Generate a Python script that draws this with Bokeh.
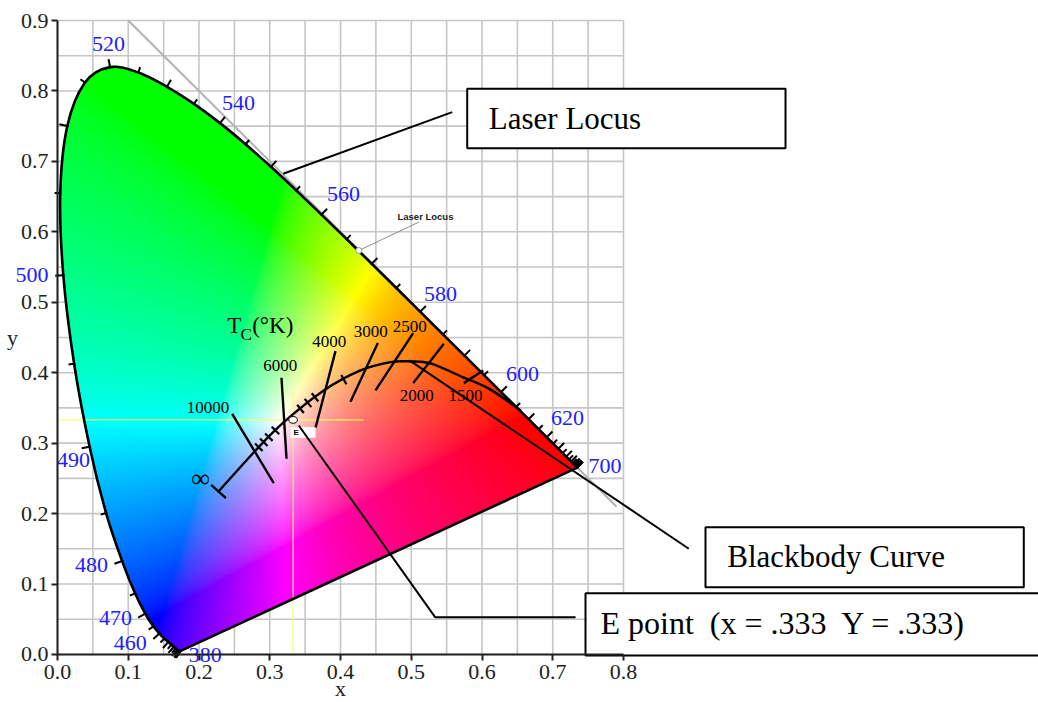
import numpy as np
from bokeh.plotting import figure
from bokeh.models import Range1d, LinearAxis, FixedTicker, NumeralTickFormatter
from bokeh.core.properties import value
from bokeh.embed import file_html
from bokeh.resources import INLINE

# ---------------- data ----------------
wavelengths = list(range(380, 705, 5))
locus_x = [0.1741, 0.1740, 0.1738, 0.1736, 0.1733, 0.1730, 0.1726, 0.1721, 0.1714, 0.1703,
           0.1689, 0.1669, 0.1644, 0.1611, 0.1566, 0.1510, 0.1440, 0.1355, 0.1241, 0.1096,
           0.0913, 0.0687, 0.0454, 0.0235, 0.0082, 0.0039, 0.0139, 0.0389, 0.0743, 0.1142,
           0.1547, 0.1929, 0.2296, 0.2658, 0.3016, 0.3373, 0.3731, 0.4087, 0.4441, 0.4788,
           0.5125, 0.5448, 0.5752, 0.6029, 0.6270, 0.6482, 0.6658, 0.6801, 0.6915, 0.7006,
           0.7079, 0.7140, 0.7190, 0.7230, 0.7260, 0.7283, 0.7300, 0.7311, 0.7320, 0.7327,
           0.7334, 0.7340, 0.7344, 0.7346, 0.7347]
locus_y = [0.0050, 0.0050, 0.0049, 0.0049, 0.0048, 0.0048, 0.0048, 0.0048, 0.0051, 0.0058,
           0.0069, 0.0086, 0.0109, 0.0138, 0.0177, 0.0227, 0.0297, 0.0399, 0.0578, 0.0868,
           0.1327, 0.2007, 0.2950, 0.4127, 0.5384, 0.6548, 0.7502, 0.8120, 0.8338, 0.8262,
           0.8059, 0.7816, 0.7543, 0.7243, 0.6923, 0.6589, 0.6245, 0.5896, 0.5547, 0.5202,
           0.4866, 0.4544, 0.4242, 0.3965, 0.3725, 0.3514, 0.3340, 0.3197, 0.3083, 0.2993,
           0.2920, 0.2859, 0.2809, 0.2770, 0.2740, 0.2717, 0.2700, 0.2689, 0.2680, 0.2673,
           0.2666, 0.2660, 0.2656, 0.2654, 0.2653]

wl_labels = ["380", "460", "470", "480", "490", "500", "520", "540", "560", "580", "600", "620", "700"]
wl_label_x = [0.209, 0.103, 0.082, 0.048, 0.0226, -0.0127, 0.0721, 0.2558, 0.4042, 0.5413, 0.6572, 0.7208, 0.7505]
wl_label_y = [-0.0014, 0.0156, 0.0511, 0.1263, 0.2754, 0.538, 0.866, 0.7822, 0.6538, 0.5119, 0.3982, 0.3357, 0.2669]
wl_label_align = ["center"] * 5 + ["right"] + ["center"] * 6 + ["left"]

planck_x = [0.2276, 0.2799, 0.3199, 0.3764, 0.4283, 0.4707, 0.4990, 0.5272, 0.5743, 0.6120, 0.6544]
planck_y = [0.2314, 0.2896, 0.3298, 0.3748, 0.4032, 0.4150, 0.4160, 0.4131, 0.3930, 0.3760, 0.3464]
planck_tick_x = [0.2845, 0.2916, 0.2987, 0.3081, 0.3435, 0.3541, 0.3640, 0.4047]

iso_temps = ["10000", "6000", "4000", "3000", "2500", "2000", "1500"]
iso_x0 = [0.2469, 0.3166, 0.3929, 0.4528, 0.5027, 0.5460, 0.6017]
iso_y0 = [0.3416, 0.3928, 0.4306, 0.4420, 0.4561, 0.4411, 0.4032]
iso_x1 = [0.3057, 0.3237, 0.3647, 0.4141, 0.4495, 0.5027, 0.5743]
iso_y1 = [0.2431, 0.2778, 0.3218, 0.3587, 0.3748, 0.3852, 0.3852]
temp_labels = ["10000", "6000", "4000", "3000", "2500", "2000", "1500", "\u221e"]
temp_label_x = [0.2127, 0.3148, 0.3840, 0.4428, 0.4978, 0.5078, 0.5767, 0.2021]
temp_label_y = [0.3511, 0.4103, 0.4448, 0.4590, 0.4661, 0.3677, 0.3677, 0.2499]

grid_x = [i * 0.05 for i in range(17)]
grid_y = [i * 0.05 for i in range(19)]
x_ticks = [i / 10 for i in range(9)]
y_ticks = [i / 10 for i in range(10)]

boundary_x = [0.1, 0.79]      # x + y = 1 line
boundary_y = [0.9, 0.21]
e_x, e_y = 0.333, 0.333

# ---------------- figure ----------------
W, H = 1038, 702
x0 = -57 / 707.5
x1 = x0 + W / 707.5
y1 = 0.9 + 20 / 704.4
y0 = y1 - H / 704.4

p = figure(width=W, height=H, x_range=Range1d(x0, x1), y_range=Range1d(y0, y1),
           output_backend="svg", toolbar_location=None,
           x_axis_location=None, y_axis_location=None, min_border=0,
           outline_line_color=None, background_fill_color="white", border_fill_color="white")
p.grid.visible = False

serif = value("Liberation Serif")


def smooth_controls(xs, ys):
    """Catmull-Rom control points for cubic Bezier segments through the points."""
    P = np.column_stack([xs, ys])
    m = len(P)
    c0, c1 = [], []
    for i in range(m - 1):
        pm = P[max(i - 1, 0)]
        pp = P[min(i + 2, m - 1)]
        c0.append(P[i] + (P[i + 1] - pm) / 6)
        c1.append(P[i + 1] - (pp - P[i]) / 6)
    return P, np.array(c0), np.array(c1)


def sample_bezier(P, c0, c1, k=12):
    pts = []
    t = np.linspace(0, 1, k, endpoint=False)[:, None]
    for i in range(len(P) - 1):
        a, b, c, d = P[i], c0[i], c1[i], P[i + 1]
        seg = ((1 - t) ** 3) * a + 3 * ((1 - t) ** 2) * t * b + 3 * (1 - t) * t ** 2 * c + t ** 3 * d
        pts.append(seg)
    pts.append(P[-1][None, :])
    return np.vstack(pts)


# grid
p.segment(x0=grid_x, y0=[0] * len(grid_x), x1=grid_x, y1=[0.9] * len(grid_x), line_color="#c6c6c6", line_width=1.6)
p.segment(x0=[0] * len(grid_y), y0=grid_y, x1=[0.8] * len(grid_y), y1=grid_y, line_color="#c6c6c6", line_width=1.6)
p.line(boundary_x, boundary_y, line_color="#b2b2b2", line_width=2)

# chromaticity colour image
LP, LC0, LC1 = smooth_controls(locus_x, locus_y)
poly = sample_bezier(LP, LC0, LC1)
lx = poly[:, 0]
ly = poly[:, 1]
res = 0.0018
gx = np.arange(0.0, 0.75, res) + res / 2
gy = np.arange(0.0, 0.85, res) + res / 2
XX, YY = np.meshgrid(gx, gy)
inside = np.zeros(XX.shape, dtype=bool)
n = len(lx)
j = n - 1
for i in range(n):
    xi, yi, xj, yj = lx[i], ly[i], lx[j], ly[j]
    cond = ((yi > YY) != (yj > YY)) & (XX < (xj - xi) * (YY - yi) / (yj - yi + 1e-12) + xi)
    inside ^= cond
    j = i
Xc = XX / YY
Zc = (1 - XX - YY) / YY
R = 3.2406 * Xc - 1.5372 - 0.4986 * Zc
G = -0.9689 * Xc + 1.8758 + 0.0415 * Zc
B = 0.0557 * Xc - 0.2040 + 1.0570 * Zc
rgb = np.clip(np.stack([R, G, B], axis=-1), 0, None)
rgb = rgb / np.maximum(rgb.max(axis=-1, keepdims=True), 1e-9)
rgb = np.power(rgb, 1 / 1.6)
ny, nx = XX.shape
img = np.zeros((ny, nx), dtype=np.uint32)
view = img.view(dtype=np.uint8).reshape((ny, nx, 4))
view[..., 0] = np.round(rgb[..., 0] * 255).astype(np.uint8)
view[..., 1] = np.round(rgb[..., 1] * 255).astype(np.uint8)
view[..., 2] = np.round(rgb[..., 2] * 255).astype(np.uint8)
view[..., 3] = np.where(inside, 255, 0).astype(np.uint8)
p.image_rgba(image=[img], x=0, y=0, dw=nx * res, dh=ny * res)

# yellow guide lines through E
p.line([0, 0.4325], [e_y, e_y], line_color="#ffff55", line_width=1.2, line_alpha=0.9)
p.line([e_x, e_x], [0, 0.372], line_color="#ffff55", line_width=1.2, line_alpha=0.9)

# spectral locus outline (smooth) + line of purples
p.bezier(x0=LP[:-1, 0], y0=LP[:-1, 1], x1=LP[1:, 0], y1=LP[1:, 1],
         cx0=LC0[:, 0], cy0=LC0[:, 1], cx1=LC1[:, 0], cy1=LC1[:, 1],
         line_color="black", line_width=2.6, line_cap="round")
p.line([locus_x[-1], locus_x[0]], [locus_y[-1], locus_y[0]], line_color="black", line_width=2.6, line_cap="round")

# wavelength ticks
P = np.column_stack([locus_x, locus_y])
m = len(P)
cen = np.array([0.33, 0.33])
tx0, ty0, tx1, ty1 = [], [], [], []
for i in range(m):
    k = 1
    while True:
        a = P[max(i - k, 0)]
        b = P[min(i + k, m - 1)]
        if np.hypot(*(b - a)) > 0.012 or k > m:
            break
        k += 1
    t = (b - a) / np.hypot(*(b - a))
    nv = np.array([-t[1], t[0]])
    if np.dot(nv, P[i] - cen) < 0:
        nv = -nv
    L = 0.0115 if wavelengths[i] % 10 == 0 else 0.008
    tx0.append(P[i][0]); ty0.append(P[i][1])
    tx1.append(P[i][0] + nv[0] * L); ty1.append(P[i][1] + nv[1] * L)
p.segment(x0=tx0, y0=ty0, x1=tx1, y1=ty1, line_color="black", line_width=2)

p.text(x=wl_label_x, y=wl_label_y, text=wl_labels, text_align=wl_label_align, text_baseline="middle",
       text_font=serif, text_font_size="22px", text_color="#2020ff")

# Planckian locus
PP, PC0, PC1 = smooth_controls(planck_x, planck_y)
p.bezier(x0=PP[:-1, 0], y0=PP[:-1, 1], x1=PP[1:, 0], y1=PP[1:, 1],
         cx0=PC0[:, 0], cy0=PC0[:, 1], cx1=PC1[:, 0], cy1=PC1[:, 1],
         line_color="black", line_width=2.4, line_cap="round")
p.segment(x0=iso_x0, y0=iso_y0, x1=iso_x1, y1=iso_y1, line_color="black", line_width=2.4)
ptx = np.array(planck_tick_x)
pty = np.interp(ptx, planck_x, planck_y)
slope = (np.interp(ptx + 0.005, planck_x, planck_y) - np.interp(ptx - 0.005, planck_x, planck_y)) / 0.01
nrm = np.hypot(slope, 1)
hx, hy = -slope / nrm * 0.0075, 1 / nrm * 0.0075
p.segment(x0=ptx - hx, y0=pty - hy, x1=ptx + hx, y1=pty + hy, line_color="black", line_width=2.2)
s0 = (planck_y[1] - planck_y[0]) / (planck_x[1] - planck_x[0])
n0 = np.hypot(s0, 1)
p.segment(x0=[planck_x[0] - (-s0 / n0) * 0.014], y0=[planck_y[0] - (1 / n0) * 0.014],
          x1=[planck_x[0] + (-s0 / n0) * 0.014], y1=[planck_y[0] + (1 / n0) * 0.014],
          line_color="black", line_width=2.4)

p.text(x=temp_label_x[:-1], y=temp_label_y[:-1], text=temp_labels[:-1], text_align="center",
       text_baseline="middle", text_font=serif, text_font_size="17px", text_color="black")
p.text(x=[temp_label_x[-1]], y=[temp_label_y[-1]], text=[temp_labels[-1]], text_align="center",
       text_baseline="middle", text_font=serif, text_font_size="26px", text_color="black")
p.text(x=[0.2399], y=[0.4671], text=["T"], text_align="left", text_baseline="middle",
       text_font=serif, text_font_size="23px", text_color="black")
p.text(x=[0.2587], y=[0.4545], text=["C"], text_align="left", text_baseline="middle",
       text_font=serif, text_font_size="17px", text_color="black")
p.text(x=[0.2752], y=[0.4671], text=["(\u00b0K)"], text_align="left", text_baseline="middle",
       text_font=serif, text_font_size="23px", text_color="black")

# E point marker and tag
p.quad(left=[0.3293], right=[0.3647], bottom=[0.3076], top=[0.3227], fill_color="white", line_color=None)
p.text(x=[0.3335], y=[0.3150], text=["E"], text_align="left", text_baseline="middle",
       text_font=value("Liberation Sans"), text_font_style="bold", text_font_size="8px", text_color="black")
p.ellipse(x=[e_x], y=[e_y], width=0.012, height=0.0095, fill_color="white", line_color="black", line_width=1)

# small "Laser Locus" label
p.line([0.4259, 0.5107], [0.5735, 0.6137], line_color="#8a8a8a", line_width=1)
p.scatter(x=[0.4259], y=[0.5735], size=6, fill_color="white", line_color="#999999", line_width=1)
p.text(x=[0.5201], y=[0.6222], text=["Laser Locus"], text_align="center", text_baseline="middle",
       text_font=value("Liberation Sans"), text_font_style="bold", text_font_size="9.5px", text_color="#222222")

# pointer lines
p.line([0.319, 0.5579], [0.6824, 0.7699], line_color="black", line_width=2)
p.line([0.4975, 0.8923], [0.4174, 0.1501], line_color="black", line_width=2)
p.line([0.341, 0.5337, 0.7322], [0.3251, 0.0530, 0.0530], line_color="black", line_width=2)

# callout boxes
p.quad(left=[0.5791, 0.9159, 0.7463], right=[1.029, 1.3658, 1.6],
       top=[0.8031, 0.1807, 0.087], bottom=[0.7188, 0.0955, -0.0014],
       fill_color="white", line_color="black", line_width=2)
p.text(x=[0.6096, 0.9466], y=[0.7605, 0.1395],
       text=["Laser Locus", "Blackbody Curve"],
       text_align="left", text_baseline="alphabetic", text_font=serif, text_font_size="31px", text_color="black")
p.text(x=[0.7675], y=[0.0440], text=["E point\u00a0 (x = .333\u00a0 Y = .333)"],
       text_align="left", text_baseline="alphabetic", text_font=serif, text_font_size="32px", text_color="black")

# axes
xaxis = LinearAxis(fixed_location=0, bounds=(0, 0.8), ticker=FixedTicker(ticks=x_ticks),
                   formatter=NumeralTickFormatter(format="0.0"), axis_label="x")
yaxis = LinearAxis(fixed_location=0, bounds=(0, 0.9), ticker=FixedTicker(ticks=y_ticks),
                   formatter=NumeralTickFormatter(format="0.0"), axis_label="y",
                   axis_label_orientation="horizontal")
for ax in (xaxis, yaxis):
    ax.axis_line_color = "#222222"
    ax.axis_line_width = 2
    ax.major_tick_line_color = "#222222"
    ax.major_tick_line_width = 2
    ax.major_tick_out = 6
    ax.major_tick_in = 0
    ax.minor_tick_line_color = None
    ax.major_label_text_font = "Liberation Serif"
    ax.major_label_text_font_size = "22px"
    ax.major_label_text_color = "#222222"
    ax.axis_label_text_font = "Liberation Serif"
    ax.axis_label_text_font_size = "22px"
    ax.axis_label_text_font_style = "normal"
    ax.axis_label_text_color = "#222222"
xaxis.major_label_standoff = 5
xaxis.axis_label_standoff = -7
yaxis.major_label_standoff = 3
yaxis.axis_label_standoff = 0
p.add_layout(xaxis, "below")
p.add_layout(yaxis, "left")

open("out.html", "w").write(file_html(p, INLINE))
